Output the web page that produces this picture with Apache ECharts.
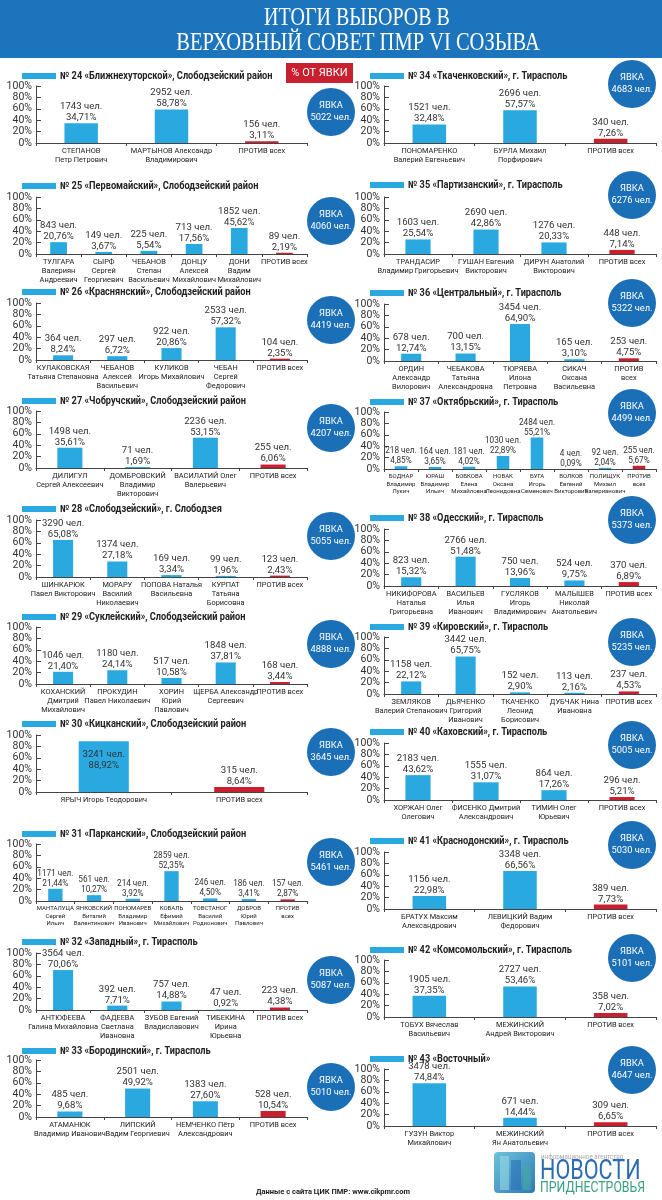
<!DOCTYPE html>
<html><head><meta charset="utf-8">
<script src="https://cdn.jsdelivr.net/npm/echarts@6/dist/echarts.min.js"></script>
<style>html,body{margin:0;padding:0;background:#fff}#c{width:662px;height:1200px}</style>
</head><body><div id="c"></div>
<script>
// ---------- DATA ----------
const districtTitles = [
 "№ 24 «Ближнехуторской», Слободзейский район",
 "№ 25 «Первомайский», Слободзейский район",
 "№ 26 «Краснянский», Слободзейский район",
 "№ 27 «Чобручский», Слободзейский район",
 "№ 28 «Слободзейский», г. Слободзея",
 "№ 29 «Суклейский», Слободзейский район",
 "№ 30 «Кицканский», Слободзейский район",
 "№ 31 «Парканский», Слободзейский район",
 "№ 32 «Западный», г. Тирасполь",
 "№ 33 «Бородинский», г. Тирасполь",
 "№ 34 «Ткаченковский», г. Тирасполь",
 "№ 35 «Партизанский», г. Тирасполь",
 "№ 36 «Центральный», г. Тирасполь",
 "№ 37 «Октябрьский», г. Тирасполь",
 "№ 38 «Одесский», г. Тирасполь",
 "№ 39 «Кировский», г. Тирасполь",
 "№ 40 «Каховский», г. Тирасполь",
 "№ 41 «Краснодонский», г. Тирасполь",
 "№ 42 «Комсомольский», г. Тирасполь",
 "№ 43 «Восточный»"
];
const turnout = [5022,4060,4419,4207,5055,4888,3645,5461,5087,5010,4683,6276,5322,4499,5373,5235,5005,5030,5101,4647];
const candidates = [
 ["СТЕПАНОВ\nПетр Петрович","МАРТЫНОВ Александр\nВладимирович","ПРОТИВ всех"],
 ["ТУЛГАРА\nВалериян\nАндреевич","СЫРФ\nСергей\nГеоргиевич","ЧЕБАНОВ\nСтепан\nВасильевич","ДОНЦУ\nАлексей\nМихайлович","ДОНИ\nВадим\nМихайлович","ПРОТИВ всех"],
 ["КУЛАКОВСКАЯ\nТатьяна Степановна","ЧЕБАНОВ\nАлексей\nВасильевич","КУЛИКОВ\nИгорь Михайлович","ЧЕБАН\nСергей\nФедорович","ПРОТИВ всех"],
 ["ДИЛИГУЛ\nСергей Алексеевич","ДОМБРОВСКИЙ\nВладимир\nВикторович","ВАСИЛАТИЙ Олег\nВалерьевич","ПРОТИВ всех"],
 ["ШИНКАРЮК\nПавел Викторович","МОРАРУ\nВасилий\nНиколаевич","ПОПОВА Наталья\nВасильевна","КУРПАТ\nТатьяна\nБорисовна","ПРОТИВ всех"],
 ["КОХАНСКИЙ\nДмитрий\nМихайлович","ПРОКУДИН\nПавел Николаевич","ХОРИН\nЮрий\nПавлович","ЩЕРБА Александр\nСергеевич","ПРОТИВ всех"],
 ["ЯРЫЧ Игорь Теодорович","ПРОТИВ всех"],
 ["МАНТАЛУЦА\nСергей\nИльич","ЯНКОВСКИЙ\nВиталий\nВалентинович","ПОНОМАРЕВ\nВладимир\nИванович","КОВАЛЬ\nЕфимий\nМихайлович","ТОВСТАНОГ\nВасилий\nРодионович","ДОБРОВ\nЮрий\nПавлович","ПРОТИВ\nвсех"],
 ["АНТЮФЕЕВА\nГалина Михайловна","ФАДЕЕВА\nСветлана\nИвановна","ЗУБОВ Евгений\nВладиславович","ТИБЕКИНА\nИрина\nЮрьевна","ПРОТИВ всех"],
 ["АТАМАНЮК\nВладимир Иванович","ЛИПСКИЙ\nВадим Георгиевич","НЕМЧЕНКО Пётр\nАлександрович","ПРОТИВ всех"],
 ["ПОНОМАРЕНКО\nВалерий Евгеньевич","БУРЛА Михаил\nПорфирович","ПРОТИВ всех"],
 ["ТРАНДАСИР\nВладимир Григорьевич","ГУШАН Евгений\nВикторович","ДИРУН Анатолий\nВикторович","ПРОТИВ всех"],
 ["ОРДИН\nАлександр\nВилорович","ЧЕБАКОВА\nТатьяна\nАлександровна","ТЮРЯЕВА\nИлона\nПетровна","СИКАЧ\nОксана\nВасильевна","ПРОТИВ\nвсех"],
 ["БОДНАР\nВладимир\nЛукич","ЮРАШ\nВладимир\nИльич","БОБКОВА\nЕлена\nМихайловна","НОВАК\nОксана\nЛеонидовна","БУГА\nИгорь\nСеменович","ВОЛКОВ\nЕвгений\nВикторович","ПОЛИЩУК\nМихаил\nВалерианович","ПРОТИВ\nвсех"],
 ["НИКИФОРОВА\nНаталья\nГригорьевна","ВАСИЛЬЕВ\nИлья\nИванович","ГУСЛЯКОВ\nИгорь\nВладимирович","МАЛЫШЕВ\nНиколай\nАнатольевич","ПРОТИВ всех"],
 ["ЗЕМЛЯКОВ\nВалерий Степанович","ДЬЯЧЕНКО\nГригорий\nИванович","ТКАЧЕНКО\nЛеонид\nБорисович","ДУБЧАК Нина\nИвановна","ПРОТИВ всех"],
 ["ХОРЖАН Олег\nОлегович","ФИСЕНКО Дмитрий\nАлександрович","ТИМИН Олег\nЮрьевич","ПРОТИВ всех"],
 ["БРАТУХ Максим\nАлександрович","ЛЕВИЦКИЙ Вадим\nФедорович","ПРОТИВ всех"],
 ["ТОБУХ Вячеслав\nВасильевич","МЕЖИНСКИЙ\nАндрей Викторович","ПРОТИВ всех"],
 ["ГУЗУН Виктор\nМихайлович","МЕЖИНСКИЙ\nЯн Анатольевич","ПРОТИВ всех"]
];
const votes = [
 [1743,2952,156],
 [843,149,225,713,1852,89],
 [364,297,922,2533,104],
 [1498,71,2236,255],
 [3290,1374,169,99,123],
 [1046,1180,517,1848,168],
 [3241,315],
 [1171,561,214,2859,246,186,157],
 [3564,392,757,47,223],
 [485,2501,1383,528],
 [1521,2696,340],
 [1603,2690,1276,448],
 [678,700,3454,165,253],
 [218,164,181,1030,2484,4,92,255],
 [823,2766,750,524,370],
 [1158,3442,152,113,237],
 [2183,1555,864,296],
 [1156,3348,389],
 [1905,2727,358],
 [3478,671,309]
];
const shares = [
 [34.71,58.78,3.11],
 [20.76,3.67,5.54,17.56,45.62,2.19],
 [8.24,6.72,20.86,57.32,2.35],
 [35.61,1.69,53.15,6.06],
 [65.08,27.18,3.34,1.96,2.43],
 [21.40,24.14,10.58,37.81,3.44],
 [88.92,8.64],
 [21.44,10.27,3.92,52.35,4.50,3.41,2.87],
 [70.06,7.71,14.88,0.92,4.38],
 [9.68,49.92,27.60,10.54],
 [32.48,57.57,7.26],
 [25.54,42.86,20.33,7.14],
 [12.74,13.15,64.90,3.10,4.75],
 [4.85,3.65,4.02,22.89,55.21,0.09,2.04,5.67],
 [15.32,51.48,13.96,9.75,6.89],
 [22.12,65.75,2.90,2.16,4.53],
 [43.62,31.07,17.26,5.21],
 [22.98,66.56,7.73],
 [37.35,53.46,7.02],
 [74.84,14.44,6.65]
];
const yTicks = [0,20,40,60,80,100];

// ---------- LAYOUT ----------
const titleY = [76,186,292,401,509,617,724,834,942,1051, 76,185,293,402,518,627,732,841,950,1059];
const gridTop = [86,197,303,411,520,627,735,844,953,1060, 86,197,304,412,529,637,743,852,960,1069];
const circleY = [112,221,320,428,536,644,752,862,980,1087, 84,195,303,413,520,642,745,845,958,1070];
const GH = 57;
const BLUE = '#29a9e0', RED = '#c8202f', DARK = '#1b6fb7';
const FF = 'Roboto, "Noto Sans", sans-serif';

const grids=[], xAxes=[], yAxes=[], series=[], els=[];
const fmt = v => v.toFixed(2).replace('.', ',');

for (let i=0;i<20;i++){
  const right = i>=10;
  const left = right ? 384 : 36;
  const width = right ? 272 : 271;
  const n = candidates[i].length;
  const dense = n>=7;
  grids.push({left:left, top:gridTop[i], width:width, height:GH, containLabel:false});
  xAxes.push({type:'category', gridIndex:i, data:candidates[i],
    axisLine:{lineStyle:{color:'#444',width:1}},
    axisTick:{show:true,length:3,lineStyle:{color:'#444'}},
    axisLabel:{interval:0, fontSize: dense?6:7.4, lineHeight: dense?7.5:9, color:'#222', margin:4, fontFamily:FF}
  });
  yAxes.push({type:'value', gridIndex:i, min:yTicks[0], max:yTicks[yTicks.length-1], interval:20,
    axisLine:{show:true,lineStyle:{color:'#444'}},
    axisTick:{show:true,inside:true,length:5,lineStyle:{color:'#444'}},
    splitLine:{show:false},
    axisLabel:{formatter:'{value}%', fontSize:10.5, color:'#333', margin:4, fontFamily:FF}
  });
  const data = shares[i].map((v,j)=>({
    value:v,
    itemStyle:{color: j===n-1 ? RED : BLUE},
    label: v>85 ? {position:'insideTop', distance:8} : undefined
  }));
  series.push({type:'bar', xAxisIndex:i, yAxisIndex:i, data:data, barWidth:'37%',
    label:{show:true, position:'top', distance:0, fontSize: dense?8.2:9.6, lineHeight: dense?10:11, color:'#333', fontFamily:FF,
      formatter:(p)=> votes[i][p.dataIndex] + ' чел.\n' + fmt(shares[i][p.dataIndex]) + '%'},
    animation:false
  });
  // title bar + text
  const bx = right ? 370 : 22;
  els.push({type:'rect', shape:{x:bx, y:titleY[i]-3, width:34, height:6}, style:{fill:BLUE}});
  els.push({type:'text', x:bx+38, y:titleY[i], scaleX:0.92, style:{text:districtTitles[i], font:'bold 10px '+FF, fill:'#222',
    textAlign:'left', align:'left', textVerticalAlign:'middle', verticalAlign:'middle'}});
  // turnout circle
  const cx = right ? 632 : 331;
  els.push({type:'circle', shape:{cx:cx, cy:circleY[i], r:24}, style:{fill:DARK}});
  els.push({type:'text', x:cx, y:circleY[i], style:{text:'ЯВКА\n'+turnout[i]+' чел.', font:'9.3px '+FF, lineHeight:12, fill:'#fff',
    textAlign:'center', align:'center', textVerticalAlign:'middle', verticalAlign:'middle'}});
}

// header
els.unshift({type:'rect', shape:{x:0,y:0,width:662,height:58}, style:{fill:'#1c74bc'}});
els.push({type:'text', x:357, y:18, scaleX:0.8, style:{text:'ИТОГИ ВЫБОРОВ В', font:'25px "Liberation Serif", serif', fill:'#fff',
  textAlign:'center', align:'center', textVerticalAlign:'middle', verticalAlign:'middle'}});
els.push({type:'text', x:358, y:43, scaleX:0.82, style:{text:'ВЕРХОВНЫЙ СОВЕТ ПМР VI СОЗЫВА', font:'25px "Liberation Serif", serif', fill:'#fff',
  textAlign:'center', align:'center', textVerticalAlign:'middle', verticalAlign:'middle'}});
// % от явки
els.push({type:'rect', shape:{x:286,y:63,width:67,height:20}, style:{fill:RED}});
els.push({type:'text', x:319.5, y:73, style:{text:'% ОТ ЯВКИ', font:'11px '+FF, fill:'#fff',
  textAlign:'center', align:'center', textVerticalAlign:'middle', verticalAlign:'middle'}});
// footer
els.push({type:'text', x:333, y:1192, style:{text:'Данные с сайта ЦИК ПМР: www.cikpmr.com', font:'bold 7.5px '+FF, fill:'#222',
  textAlign:'center', align:'center', textVerticalAlign:'middle', verticalAlign:'middle'}});
// logo
els.push({type:'rect', shape:{x:494,y:1152,width:41,height:41,r:4}, style:{fill:{type:'linear',x:0,y:0,x2:1,y2:1,colorStops:[{offset:0,color:'#6cc3d9'},{offset:1,color:'#2f78b8'}]}}});
els.push({type:'rect', shape:{x:500,y:1156,width:9,height:34}, style:{fill:'rgba(160,220,230,0.55)'}});
els.push({type:'rect', shape:{x:511,y:1160,width:10,height:30}, style:{fill:'rgba(40,110,180,0.55)'}});
els.push({type:'rect', shape:{x:523,y:1166,width:8,height:24}, style:{fill:'rgba(70,170,160,0.6)'}});
els.push({type:'text', x:541, y:1157, scaleX:0.8, style:{text:'информационное агентство', font:'7.8px '+FF, fill:'#a9a9a9',
  textAlign:'left', align:'left', textVerticalAlign:'middle', verticalAlign:'middle'}});
els.push({type:'text', x:540, y:1172, scaleX:0.8, style:{text:'НОВОСТИ', font:'27px '+FF, fill:'#2b6cb2',
  textAlign:'left', align:'left', textVerticalAlign:'middle', verticalAlign:'middle'}});
els.push({type:'text', x:540, y:1188, scaleX:0.82, style:{text:'ПРИДНЕСТРОВЬЯ', font:'15px '+FF, fill:'#3a9f80',
  textAlign:'left', align:'left', textVerticalAlign:'middle', verticalAlign:'middle'}});

const chart = echarts.init(document.getElementById('c'), null, {renderer:'canvas', width:662, height:1200});
chart.setOption({animation:false, grid:grids, xAxis:xAxes, yAxis:yAxes, series:series, graphic:{elements:els}});
</script>
</body></html>
